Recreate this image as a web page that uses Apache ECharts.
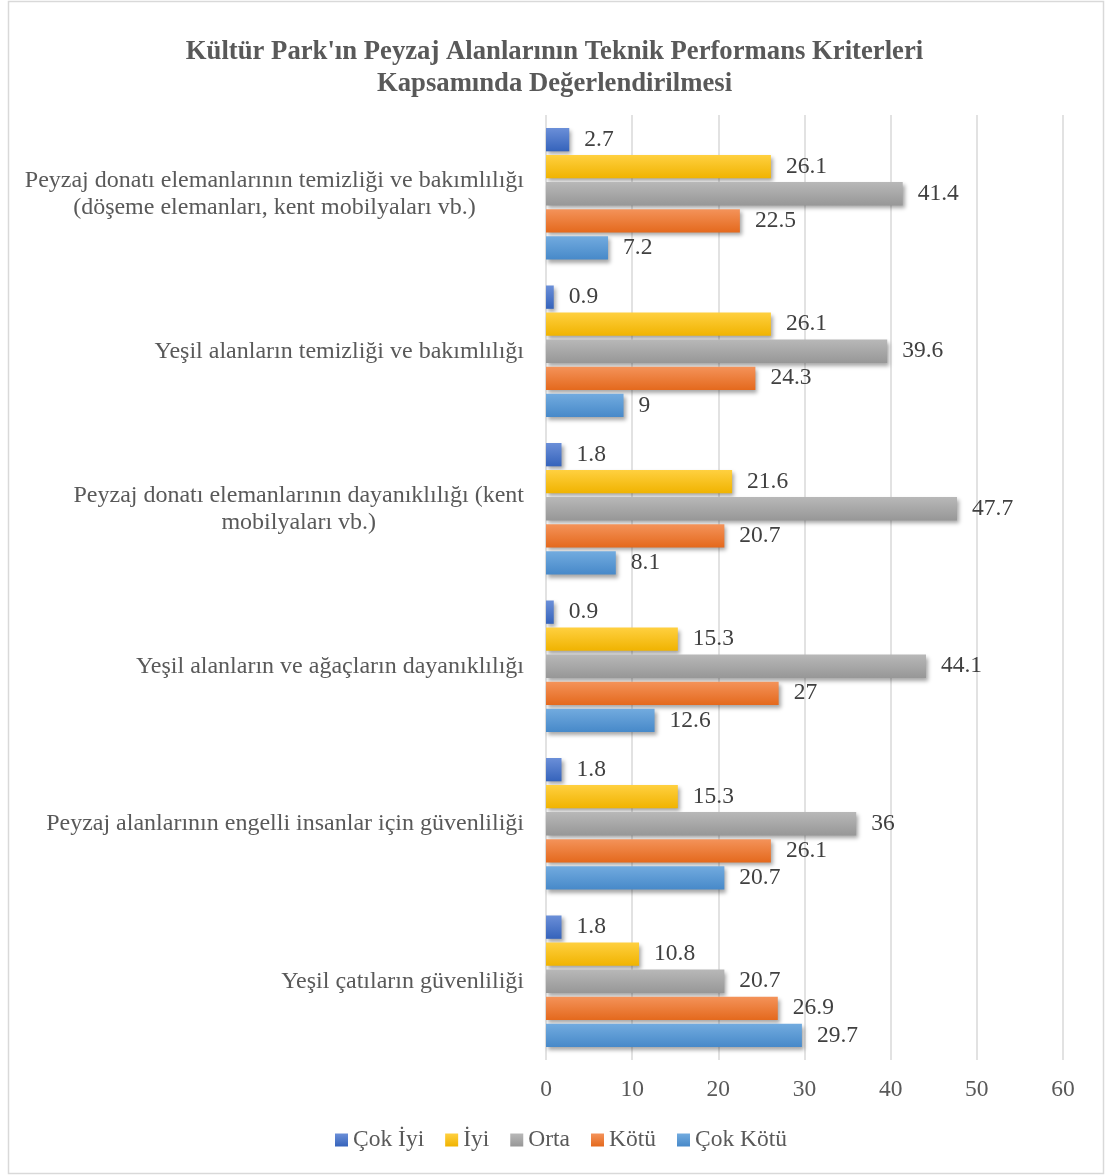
<!DOCTYPE html>
<html>
<head>
<meta charset="utf-8">
<script src="https://cdn.jsdelivr.net/npm/echarts@6/dist/echarts.min.js"></script>
<style>
  html, body { margin: 0; padding: 0; background: #ffffff; }
  #chart { width: 1109px; height: 1176px; }
</style>
</head>
<body>
<div id="chart"></div>
<script>
const titleText = "Kültür Park'ın Peyzaj Alanlarının Teknik Performans Kriterleri\nKapsamında Değerlendirilmesi";

const categories = [
  "Peyzaj donatı elemanlarının temizliği ve bakımlılığı\n(döşeme elemanları, kent mobilyaları vb.)",
  "Yeşil alanların temizliği ve bakımlılığı",
  "Peyzaj donatı elemanlarının dayanıklılığı (kent\nmobilyaları vb.)",
  "Yeşil alanların ve ağaçların dayanıklılığı",
  "Peyzaj alanlarının engelli insanlar için güvenliliği",
  "Yeşil çatıların güvenliliği"
];

const seriesNames = ["Çok İyi", "İyi", "Orta", "Kötü", "Çok Kötü"];

const cokIyi   = [2.7, 0.9, 1.8, 0.9, 1.8, 1.8];
const iyi      = [26.1, 26.1, 21.6, 15.3, 15.3, 10.8];
const orta     = [41.4, 39.6, 47.7, 44.1, 36, 20.7];
const kotu     = [22.5, 24.3, 20.7, 27, 26.1, 26.9];
const cokKotu  = [7.2, 9, 8.1, 12.6, 20.7, 29.7];

const xTicks = [0, 10, 20, 30, 40, 50, 60];

const seriesData = [cokIyi, iyi, orta, kotu, cokKotu];
const gradients = [
  ["#6b8fd8", "#3563bb"],
  ["#ffd040", "#f0b300"],
  ["#b8b8b8", "#979797"],
  ["#f4935a", "#e4691d"],
  ["#72abdf", "#4789c9"]
];

const serif = "'Liberation Serif', 'DejaVu Serif', serif";
const textColor = "#595959";

const chart = echarts.init(document.getElementById('chart'), null, { renderer: 'canvas' });

const series = seriesNames.map((name, i) => ({
  name: name,
  type: 'bar',
  data: seriesData[i],
  barCategoryGap: '16.5%',
  barGap: '16%',
  itemStyle: {
    color: new echarts.graphic.LinearGradient(0, 0, 0, 1, [
      { offset: 0, color: gradients[i][0] },
      { offset: 1, color: gradients[i][1] }
    ]),
    shadowColor: 'rgba(0,0,0,0.35)',
    shadowBlur: 4,
    shadowOffsetX: 2,
    shadowOffsetY: 3
  },
  label: {
    show: true,
    position: 'right',
    distance: 15,
    fontFamily: serif,
    fontSize: 23.5,
    color: '#404040'
  }
}));

chart.setOption({
  animation: false,
  backgroundColor: '#ffffff',
  title: {
    text: titleText,
    left: 'center',
    top: 31,
    textStyle: {
      fontFamily: serif,
      fontWeight: 'bold',
      fontSize: 26.7,
      lineHeight: 32,
      color: textColor
    }
  },
  legend: {
    data: seriesNames,
    left: 330,
    top: 1123,
    icon: 'rect',
    itemWidth: 13,
    itemHeight: 13,
    itemGap: 21,
    textStyle: { fontFamily: serif, fontSize: 23.5, color: textColor }
  },
  grid: { left: 546, right: 46, top: 115, bottom: 116, containLabel: false },
  xAxis: {
    type: 'value',
    min: xTicks[0],
    max: xTicks[xTicks.length - 1],
    interval: 10,
    axisLine: { show: false },
    axisTick: { show: false },
    splitLine: { show: true, lineStyle: { color: '#d9d9d9', width: 1.5 } },
    axisLabel: { margin: 18, fontFamily: serif, fontSize: 23.5, color: textColor }
  },
  yAxis: {
    type: 'category',
    data: categories,
    inverse: true,
    axisLine: { show: false },
    axisTick: { show: false },
    axisLabel: {
      margin: 22,
      align: 'right',
      formatter: function (v) {
        return v.split('\n').map(l => '{c|' + l + '}').join('\n');
      },
      rich: {
        c: { align: 'center', fontFamily: serif, fontSize: 24, lineHeight: 27, color: textColor }
      }
    }
  },
  graphic: [{
    type: 'rect',
    shape: { x: 8.5, y: 1.5, width: 1095, height: 1172 },
    style: { fill: 'none', stroke: '#d9d9d9', lineWidth: 1.5 },
    silent: true,
    z: -1
  }],
  series: series
});
</script>
</body>
</html>
